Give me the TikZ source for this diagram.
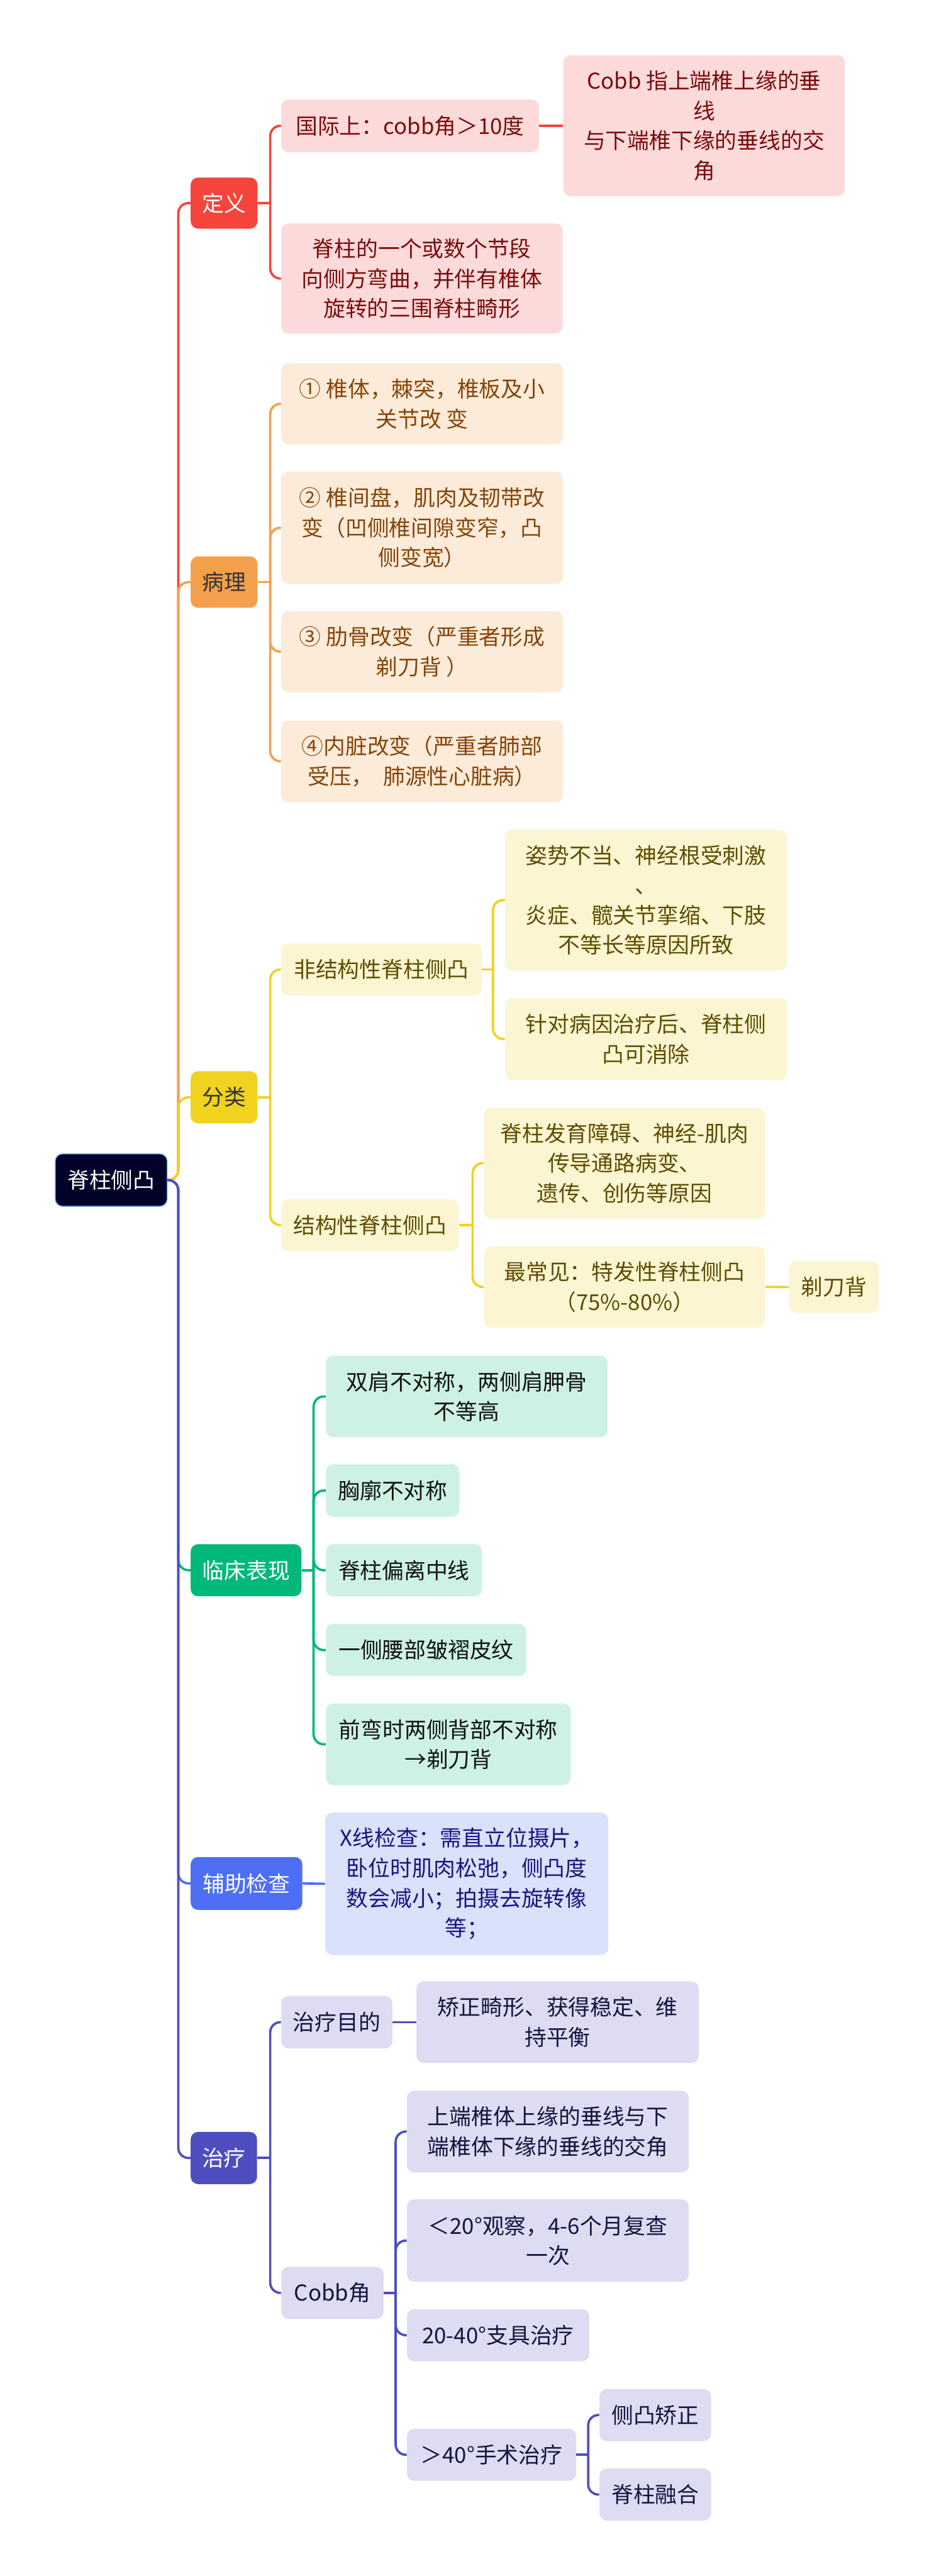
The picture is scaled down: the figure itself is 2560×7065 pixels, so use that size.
\documentclass[tikz,border=0pt]{standalone}
\usepackage{fontspec}
\setmainfont{Noto Sans CJK SC}
\definecolor{cRed}{HTML}{F5443C}
\definecolor{cRedL}{HTML}{FDDADA}
\definecolor{cRedT}{HTML}{7A0C0C}
\definecolor{cOra}{HTML}{F5A04C}
\definecolor{cOraL}{HTML}{FDEBDA}
\definecolor{cOraT}{HTML}{854508}
\definecolor{cYel}{HTML}{F0D21F}
\definecolor{cYelL}{HTML}{FCF5D2}
\definecolor{cYelT}{HTML}{5E4D00}
\definecolor{cGrn}{HTML}{00B87A}
\definecolor{cGrnL}{HTML}{CDF2E3}
\definecolor{cGrnT}{HTML}{111111}
\definecolor{cBlu}{HTML}{4D6EF5}
\definecolor{cBluL}{HTML}{D9E1FB}
\definecolor{cBluT}{HTML}{161680}
\definecolor{cInd}{HTML}{4F4EC0}
\definecolor{cIndL}{HTML}{DEDCF2}
\definecolor{cIndT}{HTML}{141440}
\definecolor{cRoot}{HTML}{000228}
\definecolor{cRootB}{HTML}{3B7DDD}
\definecolor{cDark}{HTML}{333333}
\tikzset{
  box/.style={rounded corners=5pt, inner sep=0pt, align=center,
    font=\fontsize{15}{20.5}\selectfont},
  cline/.style={line width=1.6pt},
  curve/.style={line width=1.6pt, rounded corners=7pt},
}
\begin{document}
\begin{tikzpicture}[x=0.25pt,y=-0.25pt]
\fill[white] (0,0) rectangle (2560,7065);
\useasboundingbox (0,0) rectangle (2560,7065);

% ---------- nodes ----------
\node[box, fill=cRoot, draw=cRootB, line width=0.6pt, text=white, minimum width=76.5pt, minimum height=35.75pt] (root) at (305,3236.5) {脊柱侧凸};

\node[box, fill=cRed, text=white, minimum width=45.75pt, minimum height=35pt] (dy) at (614.5,557) {定义};
\node[box, fill=cOra, text=cDark, minimum width=45.75pt, minimum height=35.25pt] (bl) at (614.5,1596.5) {病理};
\node[box, fill=cYel, text=cDark, minimum width=45.75pt, minimum height=35.75pt] (fl) at (614.5,3009.5) {分类};
\node[box, fill=cGrn, text=white, minimum width=76pt, minimum height=35.75pt] (lc) at (675,4306.5) {临床表现};
\node[box, fill=cBlu, text=white, minimum width=76.5pt, minimum height=36.25pt] (fz) at (676,5165.5) {辅助检查};
\node[box, fill=cInd, text=white, minimum width=45.5pt, minimum height=35.75pt] (zl) at (614,5918.5) {治疗};

% definition
\node[box, fill=cRedL, text=cRedT, minimum width=176.75pt, minimum height=36pt] (d1) at (1124.5,345) {国际上：cobb角＞10度};
\node[box, fill=cRedL, text=cRedT, minimum width=193pt, minimum height=75.5pt] (d2) at (1157,764) {脊柱的一个或数个节段\\向侧方弯曲，并伴有椎体\\旋转的三围脊柱畸形};
\node[box, fill=cRedL, text=cRedT, minimum width=193pt, minimum height=96.5pt] (d3) at (1931,345) {Cobb 指上端椎上缘的垂\\线\\与下端椎下缘的垂线的交\\角};

% pathology
\node[box, fill=cOraL, text=cOraT, minimum width=193.25pt, minimum height=55.75pt] (b1) at (1157.5,1107.5) {① 椎体，棘突，椎板及小\\关节改 变};
\node[box, fill=cOraL, text=cOraT, minimum width=193.25pt, minimum height=76.75pt] (b2) at (1157.5,1447.5) {② 椎间盘，肌肉及韧带改\\变（凹侧椎间隙变窄，凸\\侧变宽）};
\node[box, fill=cOraL, text=cOraT, minimum width=193.25pt, minimum height=55.75pt] (b3) at (1157.5,1787.5) {③ 肋骨改变（严重者形成\\剃刀背 ）};
\node[box, fill=cOraL, text=cOraT, minimum width=193.25pt, minimum height=56pt] (b4) at (1157.5,2088) {④内脏改变（严重者肺部\\受压，~~肺源性心脏病）};

% classification
\node[box, fill=cYelL, text=cYelT, minimum width=137.5pt, minimum height=35.5pt] (f1) at (1046,2659) {非结构性脊柱侧凸};
\node[box, fill=cYelL, text=cYelT, minimum width=121.75pt, minimum height=35.5pt] (f2) at (1014.5,3360) {结构性脊柱侧凸};
\node[box, fill=cYelL, text=cYelT, minimum width=193.25pt, minimum height=96.75pt] (f11) at (1771.5,2468.5) {姿势不当、神经根受刺激\\、\\炎症、髋关节挛缩、下肢\\不等长等原因所致};
\node[box, fill=cYelL, text=cYelT, minimum width=193.25pt, minimum height=56.25pt] (f12) at (1771.5,2849.5) {针对病因治疗后、脊柱侧\\凸可消除};
\node[box, fill=cYelL, text=cYelT, minimum width=192.75pt, minimum height=76pt] (f21) at (1712.5,3190) {脊柱发育障碍、神经-肌肉\\传导通路病变、\\遗传、创伤等原因};
\node[box, fill=cYelL, text=cYelT, minimum width=192.75pt, minimum height=55.75pt] (f22) at (1712.5,3529.5) {最常见：特发性脊柱侧凸\\（75\%-80\%）};
\node[box, fill=cYelL, text=cYelT, minimum width=61.5pt, minimum height=35.5pt] (f221) at (2287,3530) {剃刀背};

% clinical
\node[box, fill=cGrnL, text=cGrnT, minimum width=193pt, minimum height=56pt] (c1) at (1280,3830) {双肩不对称，两侧肩胛骨\\不等高};
\node[box, fill=cGrnL, text=cGrnT, minimum width=91.5pt, minimum height=36pt] (c2) at (1077,4088) {胸廓不对称};
\node[box, fill=cGrnL, text=cGrnT, minimum width=107pt, minimum height=35.75pt] (c3) at (1108,4306.5) {脊柱偏离中线};
\node[box, fill=cGrnL, text=cGrnT, minimum width=137.25pt, minimum height=35.75pt] (c4) at (1168.5,4525.5) {一侧腰部皱褶皮纹};
\node[box, fill=cGrnL, text=cGrnT, minimum width=167.75pt, minimum height=56pt] (c5) at (1229.5,4784) {前弯时两侧背部不对称\\→剃刀背};

% auxiliary
\node[box, fill=cBluL, text=cBluT, minimum width=194pt, minimum height=97.75pt] (a1) at (1280,5166.5) {X线检查：需直立位摄片，\\卧位时肌肉松弛，侧凸度\\数会减小；拍摄去旋转像\\等；};

% treatment
\node[box, fill=cIndL, text=cIndT, minimum width=76.25pt, minimum height=36pt] (t1) at (923.5,5546) {治疗目的};
\node[box, fill=cIndL, text=cIndT, minimum width=70.25pt, minimum height=35.75pt] (t2) at (911.5,6288.5) {Cobb角};
\node[box, fill=cIndL, text=cIndT, minimum width=193.5pt, minimum height=56pt] (t11) at (1529,5546) {矫正畸形、获得稳定、维\\持平衡};
\node[box, fill=cIndL, text=cIndT, minimum width=193.25pt, minimum height=56pt] (t21) at (1502.5,5846) {上端椎体上缘的垂线与下\\端椎体下缘的垂线的交角};
\node[box, fill=cIndL, text=cIndT, minimum width=193.25pt, minimum height=56.5pt] (t22) at (1502.5,6145) {＜20°观察，4-6个月复查\\一次};
\node[box, fill=cIndL, text=cIndT, minimum width=125pt, minimum height=35.75pt] (t23) at (1366,6404.5) {20-40°支具治疗};
\node[box, fill=cIndL, text=cIndT, minimum width=116pt, minimum height=35.75pt] (t24) at (1348,6732.5) {＞40°手术治疗};
\node[box, fill=cIndL, text=cIndT, minimum width=76.5pt, minimum height=35.75pt] (t241) at (1797,6623.5) {侧凸矫正};
\node[box, fill=cIndL, text=cIndT, minimum width=76.5pt, minimum height=35.75pt] (t242) at (1797,6841.5) {脊柱融合};

% ---------- bus coordinates ----------
\coordinate (broot) at (489,3236.5);
\coordinate (bdy) at (741,557);
\coordinate (bbl) at (741,1596.5);
\coordinate (bfl) at (741,3009.5);
\coordinate (bf1) at (1352,2659);
\coordinate (bf2) at (1296,3360);
\coordinate (blc) at (860,4306.5);
\coordinate (bzl) at (741,5918.5);
\coordinate (bt2) at (1085,6288.5);
\coordinate (bt24) at (1613,6732.5);

% ---------- connectors ----------
\draw[curve, cRed] (root.east) -- (broot) |- (dy.west);
\draw[curve, cOra] (root.east) -- (broot) |- (bl.west);
\draw[curve, cYel] (root.east) -- (broot) |- (fl.west);
\draw[curve, cGrn] (root.east) -- (broot) |- (lc.west);
\draw[curve, cBlu] (root.east) -- (broot) |- (fz.west);
\draw[curve, cInd] (root.east) -- (broot) |- (zl.west);

% definition
\draw[cline, cRed] (dy.east) -- (bdy);
\draw[curve, cRed] (bdy) |- (d1.west);
\draw[curve, cRed] (bdy) |- (d2.west);
\draw[cline, cRed] (d1.east) -- (d3.west);

% pathology
\draw[cline, cOra] (bl.east) -- (bbl);
\foreach \n in {b1,b2,b3,b4} \draw[curve, cOra] (bbl) |- (\n.west);

% classification
\draw[cline, cYel] (fl.east) -- (bfl);
\draw[curve, cYel] (bfl) |- (f1.west);
\draw[curve, cYel] (bfl) |- (f2.west);
\draw[cline, cYel] (f1.east) -- (bf1);
\draw[curve, cYel] (bf1) |- (f11.west);
\draw[curve, cYel] (bf1) |- (f12.west);
\draw[cline, cYel] (f2.east) -- (bf2);
\draw[curve, cYel] (bf2) |- (f21.west);
\draw[curve, cYel] (bf2) |- (f22.west);
\draw[cline, cYel] (f22.east) -- (f221.west);

% clinical
\draw[cline, cGrn] (lc.east) -- (blc);
\foreach \n in {c1,c2,c3,c4,c5} \draw[curve, cGrn] (blc) |- (\n.west);

% auxiliary
\draw[cline, cBlu] (fz.east) -- (a1.west);

% treatment
\draw[cline, cInd] (zl.east) -- (bzl);
\draw[curve, cInd] (bzl) |- (t1.west);
\draw[curve, cInd] (bzl) |- (t2.west);
\draw[cline, cInd] (t1.east) -- (t11.west);
\draw[cline, cInd] (t2.east) -- (bt2);
\foreach \n in {t21,t22,t23,t24} \draw[curve, cInd] (bt2) |- (\n.west);
\draw[cline, cInd] (t24.east) -- (bt24);
\draw[curve, cInd] (bt24) |- (t241.west);
\draw[curve, cInd] (bt24) |- (t242.west);
\end{tikzpicture}
\end{document}
